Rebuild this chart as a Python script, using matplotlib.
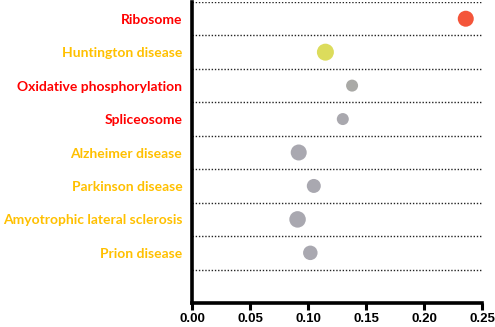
import numpy as np
import matplotlib
matplotlib.use('Agg')
import matplotlib.pyplot as plt

# pathways, top to bottom
pathways = ['Ribosome', 'Huntington disease', 'Oxidative phosphorylation', 'Spliceosome',
            'Alzheimer disease', 'Parkinson disease', 'Amyotrophic lateral sclerosis', 'Prion disease']
label_colors = ['#ff0000', '#ffc000', '#ff0000', '#ff0000',
                '#ffc000', '#ffc000', '#ffc000', '#ffc000']
ratio = [0.236, 0.115, 0.138, 0.130, 0.092, 0.105, 0.091, 0.102]
counts = [16, 17, 12, 12, 16, 14, 16.5, 14.5]
dot_colors = ['#f4553a', '#dcdc5c', '#a9a9a6', '#a9a8ae',
              '#a9a8b0', '#a9a8b0', '#a9a8b0', '#a9a8b0']

fig = plt.figure(figsize=(4.95, 3.27), dpi=100)
ax = fig.add_axes([192 / 495, 24 / 327, 290 / 495, 301 / 327])

n = len(pathways)
ypos = np.arange(n, 0, -1)
sizes = (np.array(counts) * 0.72) ** 2
ax.scatter(ratio, ypos, s=sizes, c=dot_colors, edgecolors='none', zorder=3)

for y in np.arange(0.5, n + 1, 1.0):
    ax.axhline(y, color='#222222', linestyle=(0, (1, 1.3)), linewidth=1.0, zorder=1)

ax.set_xlim(0, 0.25)
ax.set_ylim(-0.5, n + 0.5)
ax.set_xticks([0, 0.05, 0.10, 0.15, 0.20, 0.25])
ax.set_xticklabels(['0.00', '0.05', '0.10', '0.15', '0.20', '0.25'],
                   fontsize=9.5, fontweight='bold', family='Liberation Sans')
ax.set_yticks(ypos)
ax.set_yticklabels(pathways, fontsize=10, fontweight='bold', family='Lato')
for lab, col in zip(ax.get_yticklabels(), label_colors):
    lab.set_color(col)
ax.tick_params(axis='y', length=0, pad=7)
ax.tick_params(axis='x', length=5, width=2.2, pad=2)

for side in ['top', 'right']:
    ax.spines[side].set_visible(False)
ax.spines['left'].set_linewidth(2.6)
ax.spines['bottom'].set_linewidth(2.6)

fig.savefig('out.png', dpi=100)
